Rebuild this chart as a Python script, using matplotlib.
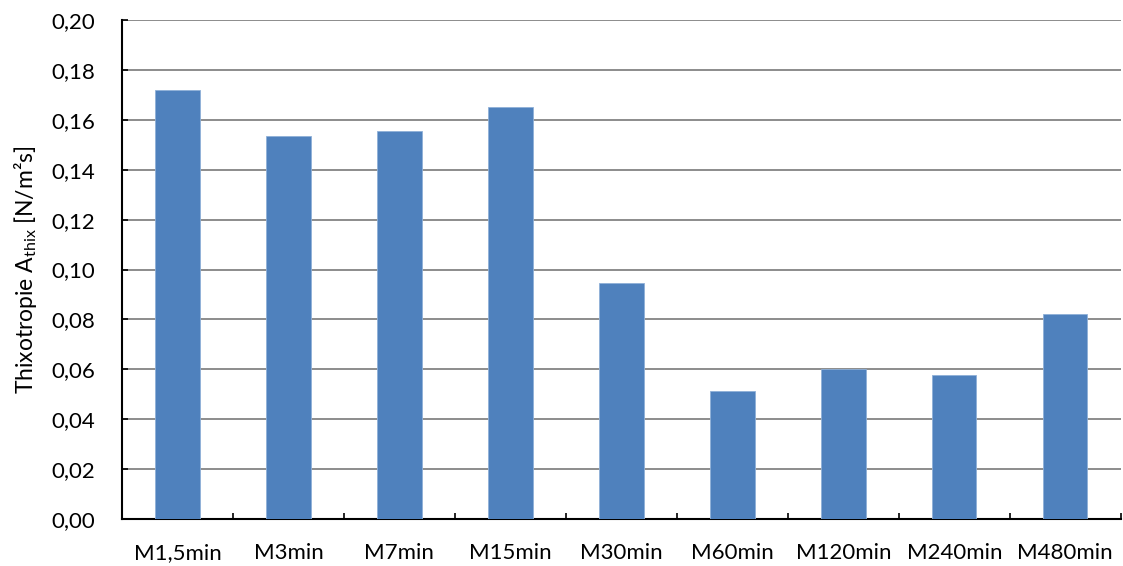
import matplotlib
matplotlib.use("Agg")
import matplotlib.pyplot as plt
import numpy as np

categories = ["M1,5min", "M3min", "M7min", "M15min", "M30min",
              "M60min", "M120min", "M240min", "M480min"]
values = [0.1718, 0.1534, 0.1557, 0.1650, 0.0944, 0.0512, 0.0600, 0.0579, 0.0820]
yticks = [0.00, 0.02, 0.04, 0.06, 0.08, 0.10, 0.12, 0.14, 0.16, 0.18, 0.20]

plt.rcParams["font.family"] = ["Lato", "DejaVu Sans"]
plt.rcParams["mathtext.fontset"] = "custom"
plt.rcParams["mathtext.rm"] = "Lato"
plt.rcParams["mathtext.it"] = "Lato:italic"

fig = plt.figure(figsize=(11.23, 5.66), dpi=100)
ax = fig.add_axes([0.1086, 0.083, 0.8894, 0.8817])

x = np.arange(len(categories))
ax.bar(x, values, width=0.4, color="#4F81BD", edgecolor="#8fb0d8", linewidth=0.6, zorder=3)

ax.set_xlim(-0.5, len(categories) - 0.5)
ax.set_ylim(0, 0.20)
ax.set_yticks(yticks)
ax.set_yticklabels([f"{t:.2f}".replace(".", ",") for t in yticks])
ax.yaxis.grid(True, color="#8c8c8c", linewidth=1.4, zorder=0)
ax.set_axisbelow(True)

ax.set_xticks(x)
ax.set_xticklabels(categories)
ax.set_xticks(np.arange(len(categories) + 1) - 0.5, minor=True)
ax.tick_params(axis="x", which="major", length=0, pad=17, labelsize=16, colors="black")
ax.tick_params(axis="x", which="minor", direction="in", length=4.5, width=1.2, color="black")
ax.tick_params(axis="y", direction="in", length=4.5, width=1.2, pad=19, labelsize=16)

for side in ("top", "right"):
    ax.spines[side].set_visible(False)
for side in ("left", "bottom"):
    ax.spines[side].set_linewidth(1.5)
    ax.spines[side].set_color("black")

ax.set_ylabel("Thixotropie A$_{\\mathrm{thix}}$ [N/m²s]", fontsize=16.5, labelpad=9)

fig.savefig("out.png", dpi=100)
